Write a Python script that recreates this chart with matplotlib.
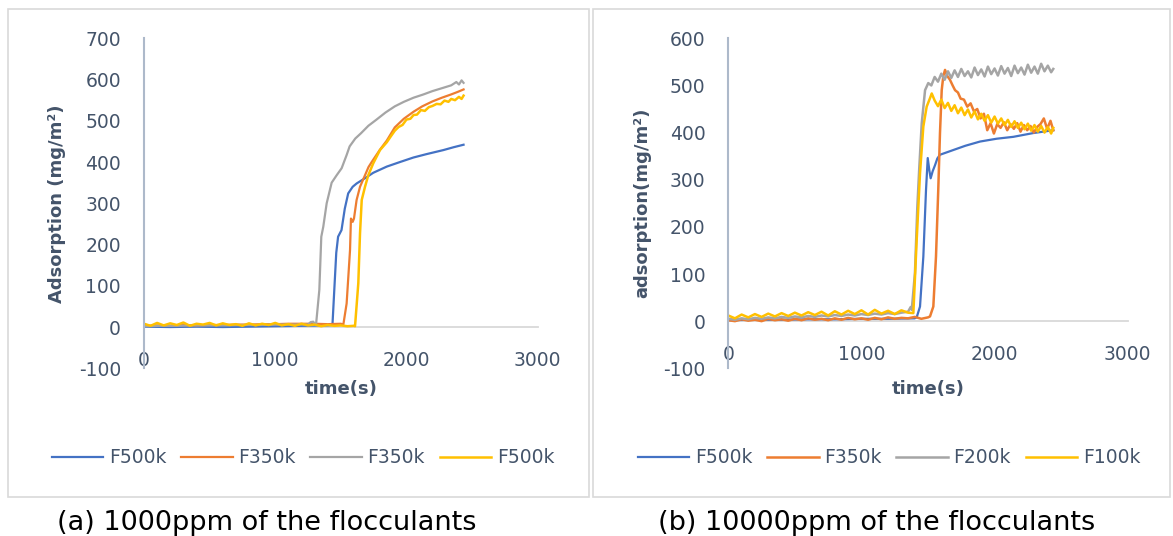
import matplotlib
matplotlib.use('Agg')
import matplotlib.pyplot as plt
from matplotlib.patches import Rectangle

plt.rcParams['axes.unicode_minus'] = False   # Excel shows "-100" with a hyphen

# ─── Data: panel (a) 1000ppm ──────────────────────────────────────────────────
a_blue_t = [0, 200, 400, 600, 800, 1000, 1200, 1400, 1436, 1450, 1465, 1479, 1505,
            1530, 1556, 1590, 1620, 1680, 1747, 1850, 1950, 2053, 2150, 2281, 2360, 2435]
a_blue_v = [1, 0, 1, 0, 1, 2, 3, 4, 5, 90, 180, 219, 235,
            287, 324, 340, 348, 360, 374, 389, 400, 411, 419, 429, 436, 442]

a_orange_t = [0, 100, 200, 300, 400, 500, 600, 700, 800, 900, 1000, 1100, 1200, 1300,
              1400, 1500, 1519, 1544, 1570, 1577, 1590, 1600, 1620, 1646, 1684, 1711,
              1735, 1798, 1850, 1911, 1980, 2054, 2120, 2198, 2270, 2341, 2390, 2435]
a_orange_v = [3, 4, 3, 5, 4, 5, 5, 6, 6, 7, 7, 8, 8, 8,
              7, 8, 6, 57, 187, 263, 255, 263, 308, 340, 368, 388,
              400, 430, 452, 484, 505, 522, 535, 547, 556, 564, 570, 576]

a_gray_t = [0, 125, 250, 375, 500, 625, 750, 875, 1000, 1125, 1250, 1270, 1290, 1300,
            1311, 1336, 1351, 1366, 1392, 1430, 1468, 1506, 1544, 1567, 1610, 1654,
            1710, 1768, 1840, 1911, 1980, 2054, 2130, 2198, 2270, 2341, 2380, 2400,
            2420, 2435]
a_gray_v = [2, 3, 3, 4, 4, 4, 5, 5, 6, 6, 6, 12, 13, 7,
            6, 90, 219, 243, 300, 350, 368, 385, 417, 438, 457, 470,
            488, 502, 520, 535, 546, 556, 564, 572, 579, 586, 594, 588,
            598, 592]

a_yellow_t = [0, 50, 100, 150, 200, 250, 300, 350, 400, 450, 500, 550, 600, 650, 700,
              750, 800, 850, 900, 950, 1000, 1050, 1100, 1150, 1200, 1250, 1300, 1350,
              1400, 1450, 1500, 1550, 1600, 1608, 1633, 1646, 1659, 1684, 1709, 1747,
              1798, 1850, 1880, 1911, 1940, 1970, 2000, 2030, 2054, 2080, 2110, 2140,
              2170, 2198, 2230, 2260, 2290, 2320, 2341, 2370, 2400, 2420, 2435]
a_yellow_v = [8, 3, 10, 4, 9, 5, 11, 3, 8, 6, 10, 4, 9, 5, 7,
              3, 9, 4, 8, 5, 10, 4, 7, 3, 8, 4, 6, 2, 5, 3, 4, 2, 3, 2, 106, 227, 308,
              340, 368, 397, 429, 448, 462, 476, 485, 490, 503, 505, 514, 515, 526, 524,
              533, 536, 541, 540, 549, 546, 553, 550, 558, 553, 561]

# ─── Data: panel (b) 10000ppm ─────────────────────────────────────────────────
b_blue_t = [0, 200, 400, 600, 800, 1000, 1200, 1400, 1415, 1440, 1465, 1485, 1498,
            1510, 1520, 1535, 1553, 1570, 1590, 1640, 1690, 1780, 1891, 2016, 2141,
            2291, 2441]
b_blue_v = [2, 3, 3, 4, 4, 5, 5, 6, 8, 31, 137, 278, 346,
            320, 303, 318, 331, 345, 353, 358, 363, 372, 381, 387, 391,
            399, 405]

b_orange_t = [0, 50, 100, 150, 200, 250, 300, 350, 400, 450, 500, 550, 600, 650, 700,
              750, 800, 850, 900, 950, 1000, 1050, 1100, 1150, 1200, 1250, 1300, 1350,
              1400, 1450, 1500, 1515, 1540, 1560, 1577, 1590, 1603, 1615, 1628, 1645,
              1665, 1685, 1703, 1725, 1745, 1770, 1795, 1820, 1845, 1870, 1895, 1920,
              1945, 1970, 1995, 2020, 2045, 2070, 2095, 2120, 2145, 2170, 2195, 2220,
              2245, 2270, 2295, 2320, 2345, 2370, 2395, 2420, 2441]
b_orange_v = [2, 0, 4, 1, 3, 0, 5, 2, 4, 1, 5, 2, 6, 3, 5,
              2, 6, 3, 7, 4, 6, 3, 7, 4, 8, 5, 7, 6, 9, 5, 8, 10, 31, 137, 278, 399,
              490, 520, 533, 520, 512, 500, 490, 485, 472, 470, 455, 462, 445, 450, 430,
              440, 405, 420, 398, 418, 410, 422, 405, 418, 408, 420, 402, 416, 405, 414,
              400, 412, 418, 430, 408, 425, 405]

b_gray_t = [0, 50, 100, 150, 200, 250, 300, 350, 400, 450, 500, 550, 600, 650, 700,
            750, 800, 850, 900, 950, 1000, 1050, 1100, 1150, 1200, 1250, 1300, 1350,
            1370, 1378, 1402, 1420, 1435, 1453, 1478, 1502, 1525, 1550, 1575, 1600,
            1625, 1650, 1675, 1700, 1725, 1750, 1775, 1800, 1825, 1850, 1875, 1900,
            1925, 1950, 1975, 2000, 2025, 2050, 2075, 2100, 2125, 2150, 2175, 2200,
            2225, 2250, 2275, 2300, 2325, 2350, 2375, 2400, 2425, 2441]
b_gray_v = [5, 3, 6, 4, 7, 5, 8, 6, 9, 7, 10, 8, 11, 9, 12,
            10, 13, 11, 14, 12, 15, 13, 16, 14, 17, 15, 18, 20, 30, 24, 102, 243, 328,
            420, 490, 505, 500, 518, 508, 525, 512, 530, 516, 532, 518, 535, 520, 530,
            517, 538, 522, 534, 519, 540, 524, 536, 521, 541, 525, 537, 520, 542, 526,
            538, 523, 544, 527, 540, 525, 546, 530, 542, 528, 535]

b_yellow_t = [0, 50, 100, 150, 200, 250, 300, 350, 400, 450, 500, 550, 600, 650, 700,
              750, 800, 850, 900, 950, 1000, 1050, 1100, 1150, 1200, 1250, 1300, 1350,
              1390, 1415, 1440, 1465, 1490, 1515, 1528, 1550, 1575, 1600, 1625, 1650,
              1675, 1700, 1725, 1750, 1775, 1800, 1825, 1850, 1875, 1900, 1925, 1950,
              1975, 2000, 2025, 2050, 2075, 2100, 2125, 2150, 2175, 2200, 2225, 2250,
              2275, 2300, 2325, 2350, 2375, 2400, 2425, 2441]
b_yellow_v = [12, 6, 14, 8, 15, 9, 16, 10, 17, 11, 18, 12, 19, 13, 20,
              12, 21, 14, 22, 15, 23, 14, 24, 16, 22, 15, 23, 18, 17, 172, 314, 413,
              455, 473, 483, 468, 456, 470, 452, 463, 446, 458, 441, 453, 437, 449, 432,
              445, 428, 440, 425, 437, 421, 434, 419, 430, 416, 427, 412, 424, 410, 421,
              407, 419, 404, 416, 402, 414, 400, 412, 398, 410]

a_labels = ['F500k', 'F350k', 'F350k', 'F500k']
b_labels = ['F500k', 'F350k', 'F200k', 'F100k']
a_ylabel = 'Adsorption (mg/m²)'
b_ylabel = 'adsorption(mg/m²)'
captions = ['(a) 1000ppm of the flocculants', '(b) 10000ppm of the flocculants']

# ─── Style ────────────────────────────────────────────────────────────────────
COLORS = ['#4472C4', '#ED7D31', '#A5A5A5', '#FFC000']
TXT = '#44546A'
W, H = 1173, 536

fig = plt.figure(figsize=(W / 100, H / 100), dpi=100)
fig.patch.set_facecolor('white')

# panel frames
for x0, x1 in [(7.5, 588.5), (592.5, 1169.5)]:
    fig.add_artist(Rectangle((x0 / W, 1 - 496.5 / H), (x1 - x0) / W, (496.5 - 8.5) / H,
                             transform=fig.transFigure, fill=False,
                             ec='#D9D9D9', lw=1.2))


def setup(ax, ymax, ystep, ylabel, ylab_x, labels, leg_x):
    ax.set_xlim(0, 3000)
    ax.set_ylim(-100, ymax)
    ax.set_xticks([0, 1000, 2000, 3000])
    ax.set_yticks(range(-100, ymax + 1, ystep))
    for s in ['top', 'right']:
        ax.spines[s].set_visible(False)
    ax.spines['bottom'].set_position(('data', 0))
    ax.spines['bottom'].set_color('#D9D9D9')
    ax.spines['bottom'].set_linewidth(1.3)
    ax.spines['bottom'].set_zorder(0.5)
    ax.spines['left'].set_color('#ADB9CA')
    ax.spines['left'].set_linewidth(1.5)
    ax.tick_params(axis='x', length=0, pad=17.5, labelsize=13.5, colors=TXT)
    ax.tick_params(axis='y', length=0, pad=16.5, labelsize=13.5, colors=TXT)
    pos = ax.get_position()
    fig.text(ylab_x / W, pos.y0 + pos.height / 2, ylabel, rotation=90,
             ha='center', va='center', fontsize=13, fontweight='bold', color=TXT)
    fig.text(pos.x0 + pos.width / 2, 1 - 389 / H, 'time(s)',
             ha='center', va='center', fontsize=13, fontweight='bold', color=TXT)
    fig.legend(ax.get_lines(), labels, loc='center left',
               bbox_to_anchor=(leg_x / W, 1 - 457.7 / H), ncol=4, frameon=False,
               fontsize=13.5, labelcolor=TXT, borderpad=0, borderaxespad=0,
               handlelength=2.75, handletextpad=0.3, columnspacing=0.78)


# ─── Panel (a) ────────────────────────────────────────────────────────────────
ax1 = fig.add_axes([144 / W, 1 - 368.3 / H, 393.7 / W, 330 / H])
ax1.plot(a_blue_t, a_blue_v, color=COLORS[0], lw=1.6)
ax1.plot(a_orange_t, a_orange_v, color=COLORS[1], lw=1.6)
ax1.plot(a_gray_t, a_gray_v, color=COLORS[2], lw=1.6)
ax1.plot(a_yellow_t, a_yellow_v, color=COLORS[3], lw=1.8)
setup(ax1, 700, 100, a_ylabel, 56.5, a_labels, 51.7)

# ─── Panel (b) ────────────────────────────────────────────────────────────────
ax2 = fig.add_axes([728.3 / W, 1 - 368.3 / H, 399.4 / W, 330 / H])
ax2.plot(b_blue_t, b_blue_v, color=COLORS[0], lw=1.6)
ax2.plot(b_orange_t, b_orange_v, color=COLORS[1], lw=1.8)
ax2.plot(b_gray_t, b_gray_v, color=COLORS[2], lw=1.8)
ax2.plot(b_yellow_t, b_yellow_v, color=COLORS[3], lw=1.8)
setup(ax2, 600, 100, b_ylabel, 642, b_labels, 637.7)

# captions
fig.text(57 / W, 1 - 530 / H, captions[0], ha='left', va='baseline',
         fontsize=19.5, color='black')
fig.text(658 / W, 1 - 530 / H, captions[1], ha='left', va='baseline',
         fontsize=19.5, color='black')

fig.savefig('out.png', dpi=100)
